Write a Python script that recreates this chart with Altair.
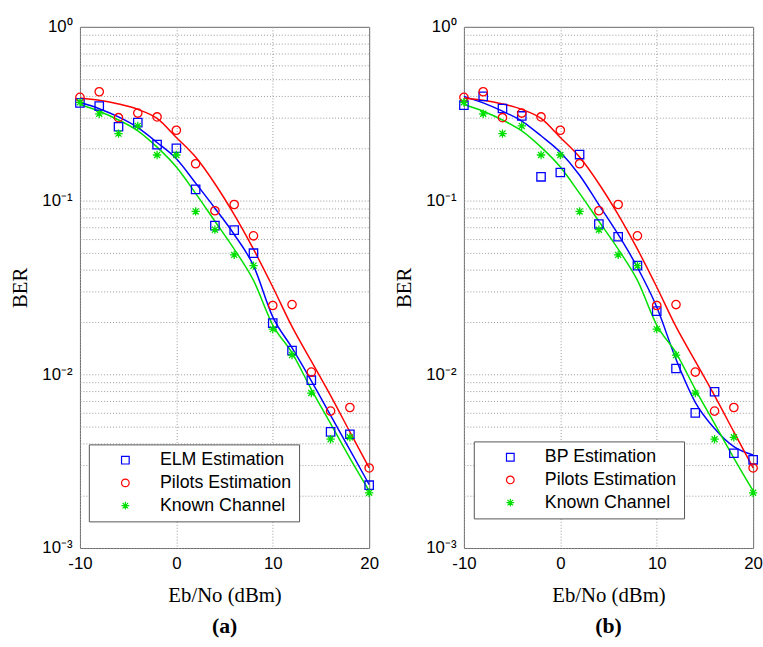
import altair as alt
import pandas as pd

# ---- data ----
x_db = [-10, -8, -6, -4, -2, 0, 2, 4, 6, 8, 10, 12, 14, 16, 18, 20]

elm_pts = [0.365, 0.35, 0.266, 0.281, 0.21, 0.2, 0.116, 0.0718, 0.0676, 0.0498,
           0.0197, 0.0137, 0.00925, 0.00466, 0.00452, 0.0023]
bp_pts = [0.354, 0.398, 0.339, 0.307, 0.137, 0.145, 0.184, 0.0733, 0.0619, 0.0422,
          0.0231, 0.0108, 0.006, 0.00794, 0.00351, 0.00322]
pilots_pts = [0.393, 0.423, 0.3, 0.319, 0.303, 0.254, 0.163, 0.0874, 0.0949, 0.0627,
              0.0249, 0.0252, 0.0103, 0.00614, 0.00644, 0.00289]
known_pts = [0.368, 0.316, 0.243, 0.269, 0.183, 0.183, 0.0866, 0.068, 0.0487, 0.0422,
             0.0182, 0.0129, 0.0078, 0.00423, 0.00434, 0.00208]

elm_fit = [0.368, 0.338, 0.303, 0.263, 0.216, 0.174, 0.126, 0.0904, 0.0638, 0.0422,
           0.0214, 0.0142, 0.00917, 0.0058, 0.00367, 0.00232]
bp_fit = [0.398, 0.365, 0.327, 0.287, 0.236, 0.19, 0.14, 0.0945, 0.0638, 0.0412,
          0.0244, 0.0122, 0.0069, 0.00487, 0.00383, 0.00343]
pilots_fit = [0.39, 0.378, 0.36, 0.335, 0.297, 0.231, 0.178, 0.125, 0.083, 0.0525,
              0.0318, 0.0188, 0.0119, 0.00753, 0.00466, 0.00289]
known_fit = [0.357, 0.327, 0.291, 0.252, 0.203, 0.156, 0.11, 0.076, 0.0525, 0.0347,
             0.0192, 0.0133, 0.0082, 0.0052, 0.00329, 0.00213]

x_ticks = [-10, 0, 10, 20]
y_grid = [m * 10 ** e for e in (-3, -2, -1) for m in range(1, 10)] + [1.0]

colors = ["#0000ff", "#ff0000", "#00e000"]
star = "M-1,0L1,0M0,-1L0,1M-0.72,-0.72L0.72,0.72M-0.72,0.72L0.72,-0.72"
shapes = ["square", "circle", star]

label_expr = ("datum.value == 1 ? '10⁰' : datum.value == 0.1 ? '10⁻¹' : "
              "datum.value == 0.01 ? '10⁻²' : datum.value == 0.001 ? '10⁻³' : ''")


def long_df(names, series):
    rows = []
    for name, vals in zip(names, series):
        for xv, yv in zip(x_db, vals):
            rows.append({"x": xv, "ber": yv, "series": name})
    return pd.DataFrame(rows)


def panel(names, est_pts, est_fit, tag, lx, ly):
    pts = long_df(names, [est_pts, pilots_pts, known_pts])
    xs = alt.Scale(domain=[-10, 20], nice=False)
    ys = alt.Scale(type="log", domain=[0.001, 1], nice=False)
    xaxis = alt.Axis(values=x_ticks, labelExpr="datum.value + ''", title="Eb/No (dBm)",
                     grid=True, ticks=False, domain=False,
                     labelFont="Liberation Sans", labelFontSize=17,
                     labelColor="black", labelPadding=8, labelFlush=False,
                     titleFont="Liberation Serif", titleFontSize=21,
                     titleFontWeight="normal", titleColor="black", titlePadding=13,
                     gridDash=[1, 2], gridColor="#999999", gridOpacity=1)
    yaxis = alt.Axis(values=y_grid, labelExpr=label_expr, title="BER", grid=True,
                     ticks=False, domain=False, labelFont="Liberation Sans",
                     labelFontSize=17, labelColor="black", labelPadding=8,
                     labelFlush=False, labelOverlap=False,
                     titleFont="Liberation Serif", titleFontSize=21,
                     titleFontWeight="normal", titleColor="black", titlePadding=12,
                     gridDash=[1, 2], gridColor="#999999", gridOpacity=1)
    layers = []
    for fit, col in zip([est_fit, pilots_fit, known_fit], colors):
        df = pd.DataFrame({"x": x_db, "ber": fit})
        layers.append(
            alt.Chart(df).mark_line(strokeWidth=1.5, interpolate="monotone", color=col).encode(
                x=alt.X("x:Q", scale=xs, axis=xaxis),
                y=alt.Y("ber:Q", scale=ys, axis=yaxis),
            )
        )
    leg = alt.Legend(title=None, orient="none", legendX=lx, legendY=ly,
                     fillColor="white", strokeColor="#555555", padding=7,
                     labelFont="Liberation Sans", labelFontSize=18, labelColor="black",
                     symbolSize=60, symbolStrokeWidth=1.2, symbolOffset=21,
                     labelOffset=26, rowPadding=5, cornerRadius=0)
    points = alt.Chart(pts).mark_point(filled=False, size=72, strokeWidth=1.3, opacity=1).encode(
        x=alt.X("x:Q", scale=xs, axis=xaxis),
        y=alt.Y("ber:Q", scale=ys, axis=yaxis),
        color=alt.Color("series:N", scale=alt.Scale(domain=names, range=colors), legend=leg),
        shape=alt.Shape("series:N", scale=alt.Scale(domain=names, range=shapes), legend=leg),
    )
    layers.append(points)
    return alt.layer(*layers).properties(
        width=293, height=528,
        title=alt.TitleParams(tag, orient="bottom", font="Liberation Serif", fontSize=22,
                              fontWeight="bold", color="black", offset=11),
    )


left = panel(["ELM Estimation", "Pilots Estimation", "Known Channel"], elm_pts, elm_fit, "(a)", 9, 423)
right = panel(["BP Estimation", "Pilots Estimation", "Known Channel"], bp_pts, bp_fit, "(b)", 10, 420)

chart = alt.hconcat(left, right, spacing=13).resolve_scale(
    color="independent", shape="independent"
).resolve_legend(color="independent", shape="independent").configure_view(
    stroke="#666666", strokeWidth=1
).properties(padding={"left": 8, "top": 13, "right": 0, "bottom": 0}, background="white")

chart.save("out.html", embed_options={"renderer": "svg", "actions": False})
